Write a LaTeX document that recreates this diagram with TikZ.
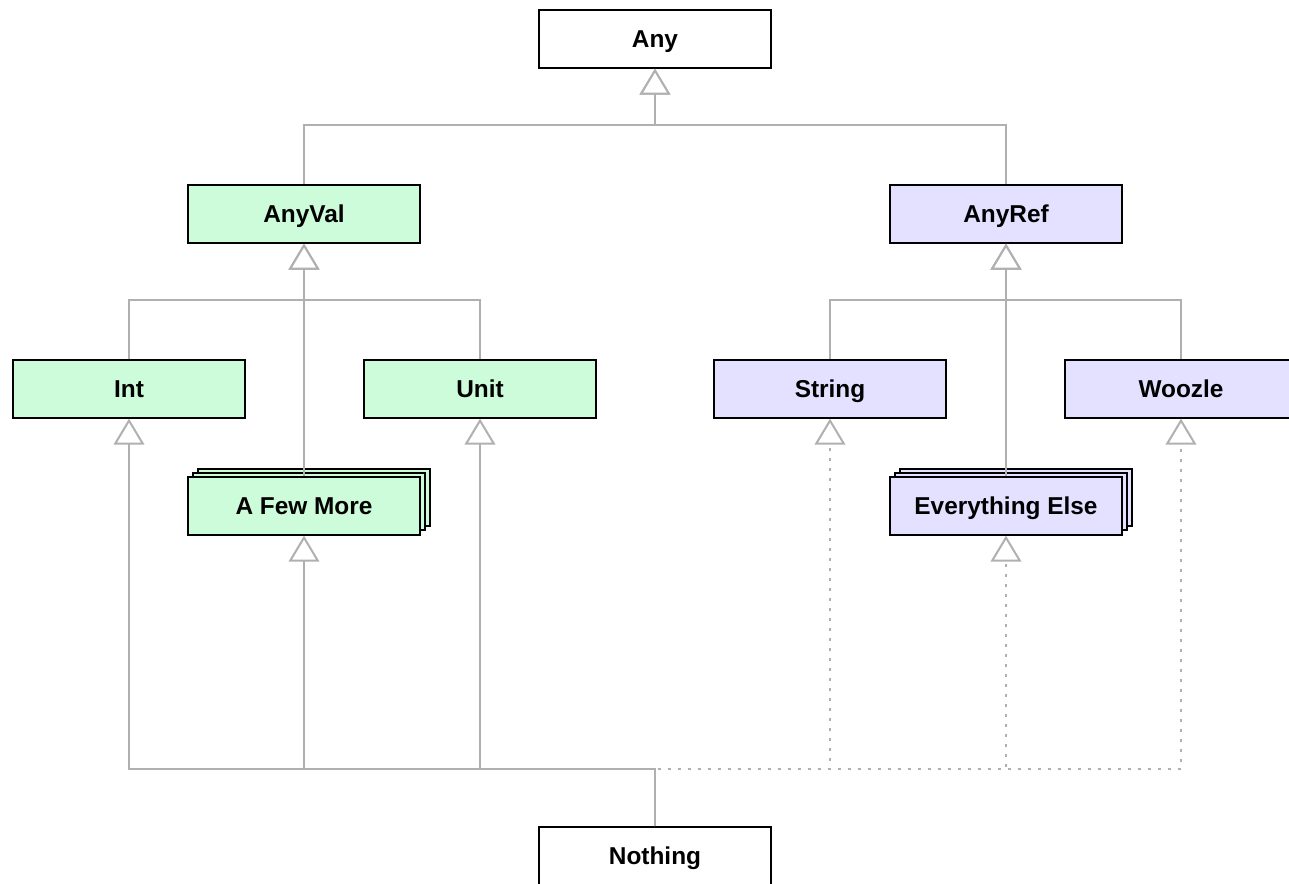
\documentclass[tikz,border=0pt]{standalone}
\usepackage{fontspec}
\setmainfont{Liberation Sans}
\usetikzlibrary{arrows.meta,shadows}

\definecolor{valgreen}{HTML}{CCFCDA}
\definecolor{refpurple}{HTML}{E4E0FF}
\definecolor{linkgray}{HTML}{B0B0B0}

\tikzset{
  typebox/.style={draw=black,line width=1.5pt,minimum width=174pt,minimum height=43pt,
    inner sep=0pt,text height=15pt,text depth=1.9pt,
    font=\fontsize{18.3}{22}\selectfont\bfseries},
  valbox/.style={typebox,fill=valgreen},
  refbox/.style={typebox,fill=refpurple},
  stackbox/.style={double copy shadow={shadow xshift=3.75pt,shadow yshift=3.3pt}},
  gen/.style={draw=linkgray,line width=1.5pt,
    -{Triangle[open,fill=white,width=23pt,length=19.5pt]}},
  dotline/.style={dash pattern=on 2.25pt off 5.25pt}
}

\begin{document}
\begin{tikzpicture}[x=0.75pt,y=-0.75pt]
  \useasboundingbox (0,0) rectangle (1289,884);

  \node[typebox,fill=white] (Any) at (655,39) {Any};
  \node[valbox] (AnyVal) at (304,214) {AnyVal};
  \node[refbox] (AnyRef) at (1006,214) {AnyRef};

  \node[valbox] (Int) at (129,389) {Int};
  \node[valbox] (Unit) at (480,389) {Unit};
  \node[refbox] (String) at (830,389) {String};
  \node[refbox] (Woozle) at (1181,389) {Woozle};

  \node[valbox,stackbox] (AFewMore) at (304,506) {A Few More};
  \node[refbox,stackbox] (EverythingElse) at (1006,506) {Everything Else};

  \node[typebox,fill=white] (Nothing) at (655,856) {Nothing};

  \coordinate (topbus) at (655,125);
  \coordinate (valbus) at (304,300);
  \coordinate (refbus) at (1006,300);
  \coordinate (botbus) at (655,769);

  \foreach \n in {AnyVal,AnyRef}
    \draw[gen] (\n.north) |- (topbus) -| (Any.south);
  \foreach \n in {Int,Unit}
    \draw[gen] (\n.north) |- (valbus) -| (AnyVal.south);
  \foreach \n in {String,Woozle}
    \draw[gen] (\n.north) |- (refbus) -| (AnyRef.south);
  \draw[gen] (AFewMore.north) -- (AnyVal.south);
  \draw[gen] (EverythingElse.north) -- (AnyRef.south);

  \foreach \n in {String,EverythingElse,Woozle}
    \draw[gen,dotline] (Nothing.north) -- (botbus) -| (\n.south);
  \foreach \n in {Int,AFewMore,Unit}
    \draw[gen] (Nothing.north) -- (botbus) -| (\n.south);
\end{tikzpicture}
\end{document}
